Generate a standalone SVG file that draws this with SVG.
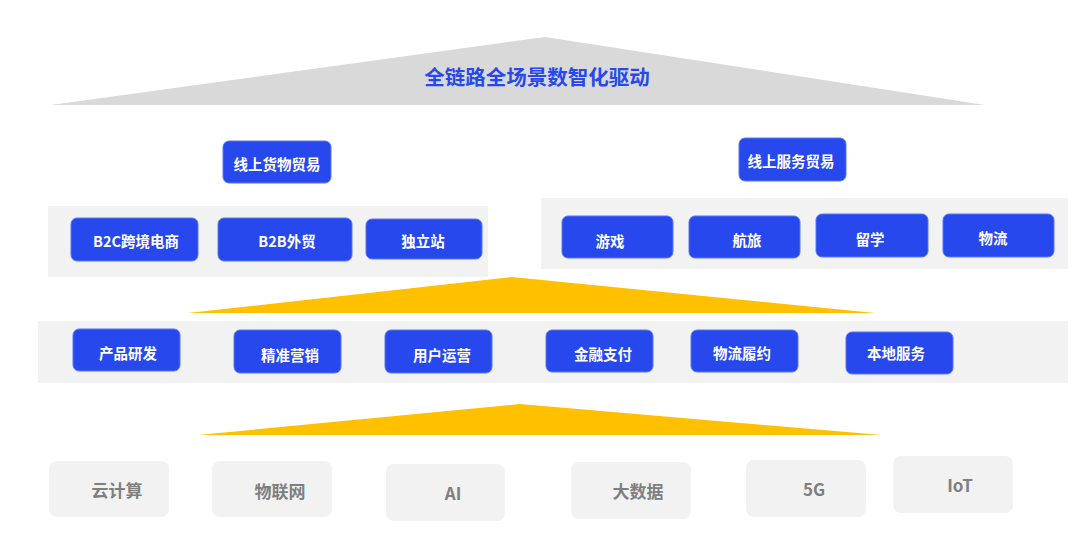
<svg xmlns="http://www.w3.org/2000/svg" width="1077" height="559" viewBox="0 0 1077 559">
<style>
text{font-family:"Noto Sans CJK SC","Noto Sans",sans-serif;font-weight:bold;text-anchor:middle;dominant-baseline:central}
.panel{fill:#F2F2F2}
.blue rect{fill:#2748ED;stroke:#5C76F2;stroke-width:1}
.blue text{fill:#FFFFFF;font-size:14.5px}
.gray rect{fill:#F2F2F2}
.gray text{fill:#7F7F7F;font-size:17px}
.tri-y{fill:#FFC000}
</style>
<rect width="1077" height="559" fill="#FFFFFF"/>
<g id="top-banner">
<polygon points="51,105 545,37 985,105" fill="#D9D9D9"/>
<text x="537" y="76" fill="#2748ED" style="font-size:20.5px">全链路全场景数智化驱动</text>
</g>
<g id="panels">
<rect class="panel" x="48" y="206" width="440" height="71"/>
<rect class="panel" x="541" y="198" width="527" height="71"/>
<rect class="panel" x="38" y="321" width="1030" height="62"/>
</g>
<g id="arrows">
<polygon class="tri-y" points="188,313 512,277 875,313"/>
<polygon class="tri-y" points="198,435 520,404 882,435"/>
</g>
<g id="goods-title" class="blue"><rect x="223" y="141" width="108" height="42" rx="6"/><text x="277" y="163">线上货物贸易</text></g>
<g id="service-title" class="blue"><rect x="739" y="138" width="107" height="43" rx="6"/><text x="791" y="160">线上服务贸易</text></g>
<g id="b2c" class="blue"><rect x="71" y="218" width="127" height="43" rx="6"/><text x="136" y="240">B2C跨境电商</text></g>
<g id="b2b" class="blue"><rect x="218" y="218" width="134" height="43" rx="6"/><text x="287" y="240">B2B外贸</text></g>
<g id="independent" class="blue"><rect x="366" y="219" width="116" height="40" rx="6"/><text x="423" y="240">独立站</text></g>
<g id="game" class="blue"><rect x="562" y="216" width="111" height="42" rx="6"/><text x="610" y="240">游戏</text></g>
<g id="travel" class="blue"><rect x="689" y="216" width="111" height="42" rx="6"/><text x="747" y="239">航旅</text></g>
<g id="study" class="blue"><rect x="816" y="214" width="112" height="43" rx="6"/><text x="870" y="238">留学</text></g>
<g id="logistics" class="blue"><rect x="943" y="214" width="111" height="43" rx="6"/><text x="993" y="237">物流</text></g>
<g id="rd" class="blue"><rect x="73" y="329" width="107" height="42" rx="6"/><text x="128" y="352">产品研发</text></g>
<g id="marketing" class="blue"><rect x="234" y="330" width="107" height="43" rx="6"/><text x="290" y="354">精准营销</text></g>
<g id="operation" class="blue"><rect x="385" y="330" width="107" height="43" rx="6"/><text x="442" y="354">用户运营</text></g>
<g id="payment" class="blue"><rect x="546" y="330" width="107" height="42" rx="6"/><text x="603" y="353">金融支付</text></g>
<g id="fulfillment" class="blue"><rect x="691" y="330" width="107" height="42" rx="6"/><text x="742" y="352">物流履约</text></g>
<g id="local" class="blue"><rect x="846" y="332" width="107" height="42" rx="6"/><text x="896" y="352">本地服务</text></g>
<g id="cloud" class="gray"><rect x="49" y="461" width="120" height="56" rx="8"/><text x="117" y="489">云计算</text></g>
<g id="iot-cn" class="gray"><rect x="212" y="461" width="120" height="56" rx="8"/><text x="280" y="490">物联网</text></g>
<g id="ai" class="gray"><rect x="386" y="464" width="119" height="57" rx="8"/><text x="453" y="492">AI</text></g>
<g id="bigdata" class="gray"><rect x="571" y="462" width="120" height="57" rx="8"/><text x="638" y="490">大数据</text></g>
<g id="g5" class="gray"><rect x="746" y="460" width="120" height="57" rx="8"/><text x="814" y="488">5G</text></g>
<g id="iot" class="gray"><rect x="893" y="456" width="120" height="57" rx="8"/><text x="960" y="484">IoT</text></g>
</svg>
